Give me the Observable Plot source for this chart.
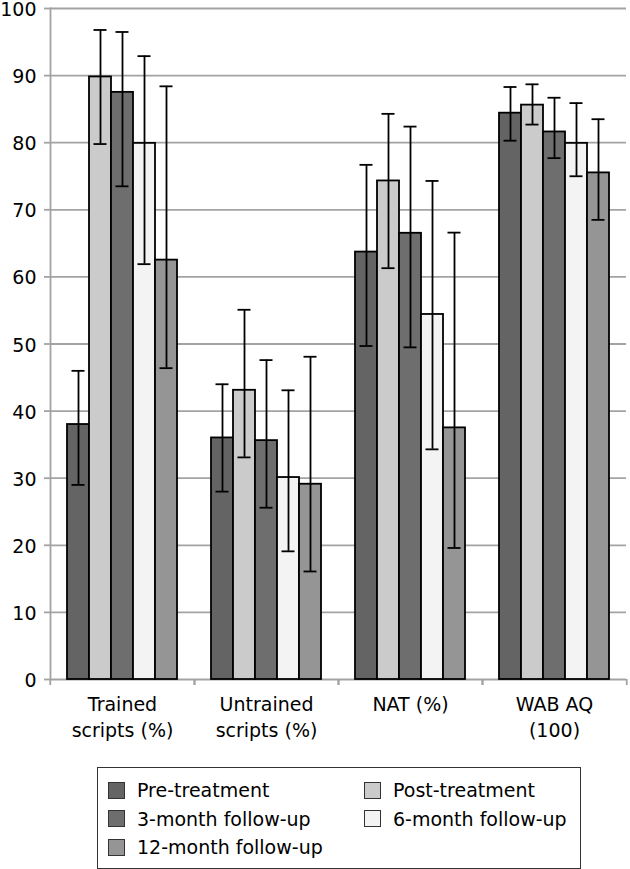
<!DOCTYPE html>
<html><head><meta charset="utf-8">
<script src="https://cdn.jsdelivr.net/npm/d3@7"></script>
<script src="https://cdn.jsdelivr.net/npm/@observablehq/plot@0.6"></script>
<style>
body{margin:0;background:#fff;font-family:"DejaVu Sans",sans-serif;}
#wrap{position:relative;width:630px;height:869px;overflow:hidden;}
#legend{position:absolute;left:97px;top:767px;width:484px;height:102px;border:1px solid #333;box-sizing:border-box;
  display:grid;grid-template-columns:256px 210px;grid-auto-rows:28.5px;padding:8px 0 0 10px;font-size:19px;color:#000;}
.item{display:flex;align-items:center;white-space:nowrap;}
.sw{width:17px;height:17px;border:1px solid #333;box-sizing:border-box;margin-right:12px;flex:none;}
</style></head><body><div id="wrap"></div>
<script>
const categories = ["Trained scripts (%)", "Untrained scripts (%)", "NAT (%)", "WAB AQ (100)"];
const categoryLabels = ["Trained\nscripts (%)", "Untrained\nscripts (%)", "NAT (%)", "WAB AQ\n(100)"];
const series = ["Pre-treatment", "Post-treatment", "3-month follow-up", "6-month follow-up", "12-month follow-up"];
const seriesColors = ["#646464", "#cbcbcb", "#6e6e6e", "#f3f3f3", "#959595"];
const yTicks = [0, 10, 20, 30, 40, 50, 60, 70, 80, 90, 100];

// values per category, in series order
const trainedMean = [38.0, 89.8, 87.5, 79.9, 62.5];
const trainedLow  = [29.0, 79.8, 73.5, 61.9, 46.4];
const trainedHigh = [46.0, 96.8, 96.5, 92.9, 88.4];
const untrainedMean = [36.0, 43.1, 35.6, 30.1, 29.1];
const untrainedLow  = [28.0, 33.1, 25.6, 19.1, 16.1];
const untrainedHigh = [44.0, 55.1, 47.6, 43.1, 48.1];
const natMean = [63.7, 74.3, 66.5, 54.4, 37.5];
const natLow  = [49.7, 61.3, 49.5, 34.3, 19.6];
const natHigh = [76.7, 84.3, 82.4, 74.3, 66.6];
const wabMean = [84.4, 85.6, 81.6, 79.9, 75.5];
const wabLow  = [80.3, 82.7, 77.7, 75.0, 68.5];
const wabHigh = [88.3, 88.7, 86.7, 85.9, 83.5];

const groups = [
  [trainedMean, trainedLow, trainedHigh],
  [untrainedMean, untrainedLow, untrainedHigh],
  [natMean, natLow, natHigh],
  [wabMean, wabLow, wabHigh]
];
const data = [];
categories.forEach((c, i) => {
  const [m, lo, hi] = groups[i];
  series.forEach((s, j) => data.push({category: c, series: s, value: m[j], low: lo[j], high: hi[j]}));
});

const W = 630, H = 760, ML = 49, MR = 3, MT = 8, MB = 81;
const facetW = (W - ML - MR) / categories.length;
const grid = "#a3a3a3";
const lw = 1.8;

const chart = Plot.plot({
  width: W, height: H,
  marginLeft: ML, marginRight: MR, marginTop: MT, marginBottom: MB,
  style: {fontFamily: "DejaVu Sans, sans-serif", fontSize: "19px", background: "white", color: "black", overflow: "visible"},
  fx: {domain: categories, padding: 0, label: null},
  x: {domain: series, paddingInner: 0, paddingOuter: 0.75, axis: null, label: null},
  y: {domain: [0, 100], label: null},
  color: {domain: series, range: seriesColors},
  marks: [
    Plot.gridY(yTicks, {stroke: grid, strokeOpacity: 1, strokeWidth: lw}),
    Plot.frame({anchor: "left", facetAnchor: "left", stroke: grid, strokeWidth: lw}),
    Plot.axisY(yTicks, {text: null, tickSize: 6, stroke: grid, strokeWidth: lw, label: null}),
    Plot.axisY(yTicks, {tickSize: 0, tickPadding: 14, dy: 1.5, fontSize: 19, fill: "black", label: null}),
    Plot.axisFx({anchor: "bottom", text: null, tickSize: 6, stroke: grid, strokeWidth: lw, dx: -facetW / 2, label: null}),
    Plot.axisFx({anchor: "bottom", text: null, tickSize: 6, stroke: grid, strokeWidth: lw, dx: facetW / 2, label: null}),
    Plot.axisFx({anchor: "bottom", tickSize: 0, tickPadding: 13, fontSize: 19, lineHeight: 1.37, fill: "black", label: null,
      tickFormat: d => categoryLabels[categories.indexOf(d)]}),
    Plot.barY(data, {fx: "category", x: "series", y: "value", fill: "series", stroke: "black", strokeWidth: lw}),
    Plot.ruleX(data, {fx: "category", x: "series", y1: "low", y2: "high", stroke: "black", strokeWidth: lw}),
    Plot.tickY(data, {fx: "category", x: "series", y: "high", insetLeft: 4.5, insetRight: 4.5, stroke: "black", strokeWidth: lw}),
    Plot.tickY(data, {fx: "category", x: "series", y: "low", insetLeft: 4.5, insetRight: 4.5, stroke: "black", strokeWidth: lw})
  ]
});

const wrap = document.getElementById("wrap");
wrap.appendChild(chart);

const legend = document.createElement("div");
legend.id = "legend";
series.forEach((s, i) => {
  const item = document.createElement("div");
  item.className = "item";
  const sw = document.createElement("span");
  sw.className = "sw";
  sw.style.background = seriesColors[i];
  const t = document.createElement("span");
  t.textContent = s;
  item.appendChild(sw);
  item.appendChild(t);
  legend.appendChild(item);
});
wrap.appendChild(legend);
</script>
</body></html>
